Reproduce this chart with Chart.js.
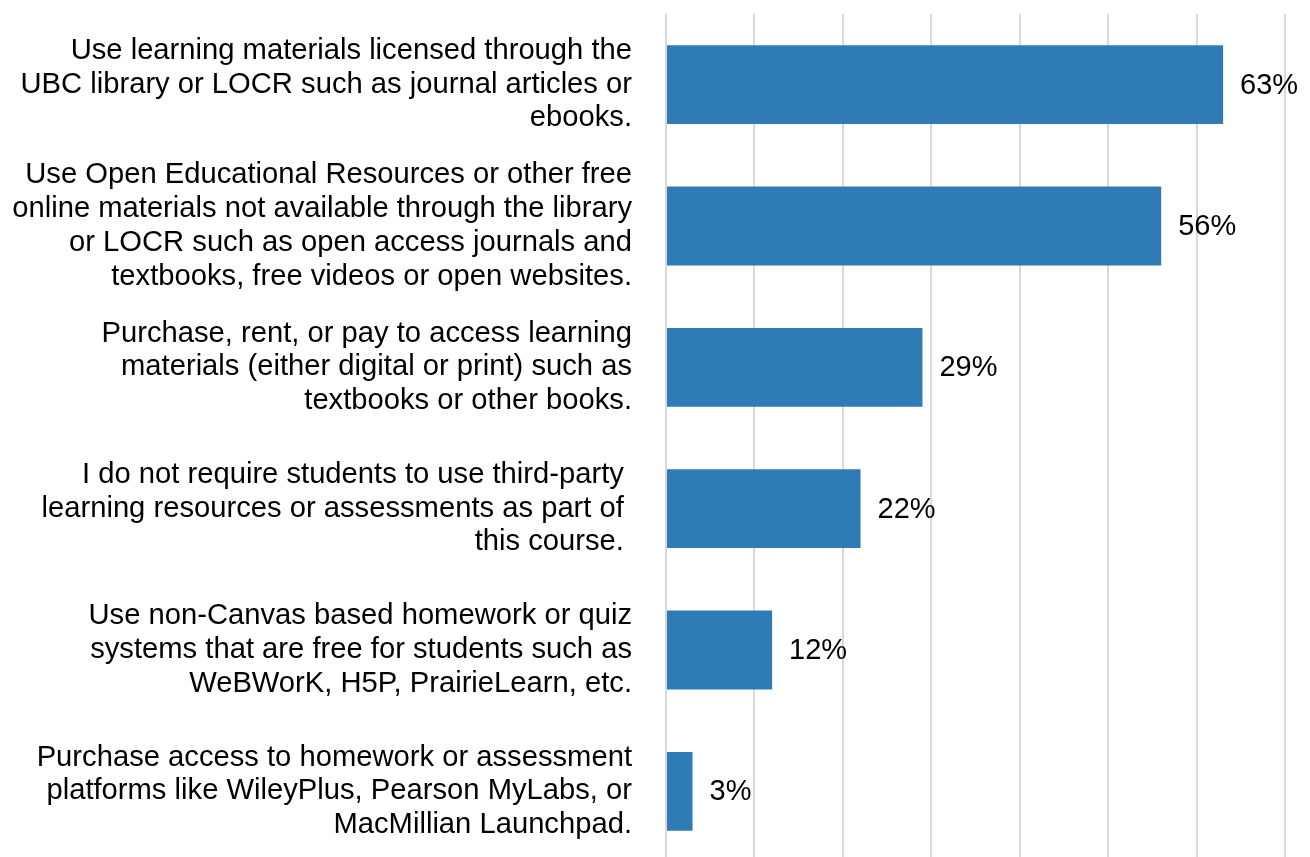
<!DOCTYPE html>
<html>
<head>
<meta charset="utf-8">
<title>Course learning materials</title>
<script src="https://cdn.jsdelivr.net/npm/chart.js@4/dist/chart.umd.min.js"></script>
<style>
  html, body { margin: 0; padding: 0; background: #fff; overflow: hidden; }
  .chart-wrap { position: relative; width: 1310px; height: 862px; }
</style>
</head>
<body>
<div class="chart-wrap">
  <canvas id="materialsChart"></canvas>
</div>
<script>
// categories (multi-line labels), trailing spaces kept as in the source text
const categories = [
  ["Use learning materials licensed through the", "UBC library or LOCR such as journal articles or", "ebooks."],
  ["Use Open Educational Resources or other free", "online materials not available through the library", "or LOCR such as open access journals and", "textbooks, free videos or open websites."],
  ["Purchase, rent, or pay to access learning", "materials (either digital or print) such as", "textbooks or other books."],
  ["I do not require students to use third-party ", "learning resources or assessments as part of ", "this course. "],
  ["Use non-Canvas based homework or quiz", "systems that are free for students such as", "WeBWorK, H5P, PrairieLearn, etc."],
  ["Purchase access to homework or assessment", "platforms like WileyPlus, Pearson MyLabs, or", "MacMillian Launchpad."]
];
const values = [63, 56, 29, 22, 12, 3];
const xTicks = [0, 10, 20, 30, 40, 50, 60, 70];

const FONT = '"Liberation Sans", Arial, sans-serif';
const FONT_SIZE = 29.2;

// draws "NN%" just past the end of each bar
const valueLabels = {
  id: 'valueLabels',
  afterDatasetsDraw(chart) {
    const ctx = chart.ctx;
    const meta = chart.getDatasetMeta(0);
    ctx.save();
    ctx.font = '29px ' + FONT;
    ctx.fillStyle = '#000';
    ctx.textAlign = 'left';
    ctx.textBaseline = 'middle';
    meta.data.forEach((bar, i) => {
      ctx.fillText(values[i] + '%', bar.x + 17, bar.y + 1);
    });
    ctx.restore();
  }
};

const ctx = document.getElementById('materialsChart').getContext('2d');
new Chart(ctx, {
  type: 'bar',
  data: {
    labels: categories,
    datasets: [{
      data: values,
      backgroundColor: '#2E7BB6',
      borderWidth: 0,
      categoryPercentage: 1,
      barPercentage: 0.558,
    }]
  },
  options: {
    indexAxis: 'y',
    responsive: true,
    maintainAspectRatio: false,
    animation: false,
    layout: {
      padding: { top: 14, right: 25, bottom: 0, left: 0 }
    },
    scales: {
      x: {
        min: xTicks[0],
        max: xTicks[xTicks.length - 1],
        afterBuildTicks(scale) {
          scale.ticks = xTicks.map(v => ({ value: v }));
        },
        ticks: { display: false },
        border: { display: false },
        grid: {
          color: '#D9D9D9',
          lineWidth: 2,
          drawTicks: false,
        }
      },
      y: {
        afterFit(scale) {
          // fixed label column; labels may overhang the plot edges
          scale.width = 666;
          scale.paddingTop = 0;
          scale.paddingBottom = 0;
        },
        grid: { display: false, drawTicks: false },
        border: { display: false },
        ticks: {
          autoSkip: false,
          padding: 34,
          color: '#000',
          font: {
            family: FONT,
            size: FONT_SIZE,
            lineHeight: 1.155,
          }
        }
      }
    },
    plugins: {
      legend: { display: false },
      tooltip: { enabled: false }
    }
  },
  plugins: [valueLabels]
});
</script>
</body>
</html>
